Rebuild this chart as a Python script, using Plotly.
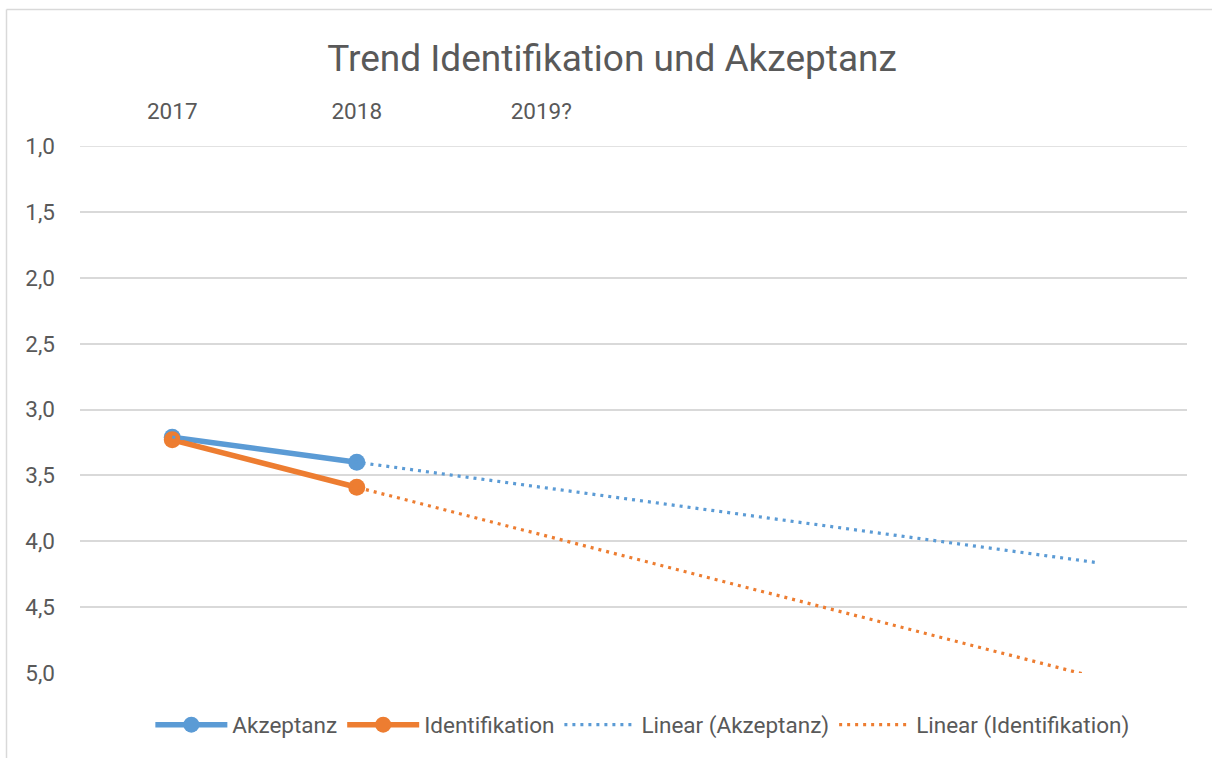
import numpy as np
import plotly.graph_objects as go

categories = ["2017", "2018", "2019?", "", "", ""]
akzeptanz = [3.21, 3.40]
identifikation = [3.23, 3.59]
forecast_periods = 4
y_ticks = [1.0, 1.5, 2.0, 2.5, 3.0, 3.5, 4.0, 4.5, 5.0]
y_ticklabels = ["1,0", "1,5", "2,0", "2,5", "3,0", "3,5", "4,0", "4,5", "5,0"]

x_data = list(range(len(akzeptanz)))
x_trend = np.arange(len(akzeptanz) + forecast_periods)

def trend(vals):
    slope, inter = np.polyfit(x_data, vals, 1)
    return slope * x_trend + inter

blue = "#5B9BD5"
orange = "#ED7D31"
grey = "#595959"
gridc = "#D9D9D9"
font_family = "Roboto, sans-serif"

W, H = 1212, 758
L, R, T, B = 80, 25, 146, 85
fs = 22.5

fig = go.Figure()
fig.add_trace(go.Scatter(x=x_data, y=akzeptanz, name="Akzeptanz", mode="lines+markers",
                         line=dict(color=blue, width=5.5), marker=dict(size=17, color=blue)))
fig.add_trace(go.Scatter(x=x_data, y=identifikation, name="Identifikation", mode="lines+markers",
                         line=dict(color=orange, width=5.5), marker=dict(size=17, color=orange)))
fig.add_trace(go.Scatter(x=x_trend, y=trend(akzeptanz), name="Linear (Akzeptanz)", mode="lines",
                         line=dict(color=blue, width=3.2, dash="3px,5px")))
fig.add_trace(go.Scatter(x=x_trend, y=trend(identifikation), name="Linear (Identifikation)", mode="lines",
                         line=dict(color=orange, width=3.2, dash="3px,5px")))

fig.update_layout(
    width=W, height=H,
    margin=dict(l=L, r=R, t=T, b=B),
    paper_bgcolor="white", plot_bgcolor="white",
    font=dict(family=font_family, color=grey, size=fs),
    title=dict(text="Trend Identifikation und Akzeptanz", x=0.505, xanchor="center",
               y=1 - 58 / H, yanchor="middle", font=dict(size=37, color=grey, family=font_family)),
    showlegend=True,
    legend=dict(orientation="h", x=0.508, xanchor="center", y=-(725 - (H - B)) / (H - T - B),
                yanchor="middle", font=dict(size=fs, color=grey), itemwidth=72),
    xaxis=dict(side="top", range=[-0.5, len(categories) - 0.5],
               tickvals=list(range(len(categories))), ticktext=categories,
               showgrid=False, zeroline=False, showline=False, ticks="",
               ticklabelstandoff=22, tickfont=dict(size=fs, color=grey)),
    yaxis=dict(range=[5.0, 1.0], tickvals=y_ticks, ticktext=y_ticklabels,
               showgrid=True, gridcolor=gridc, gridwidth=1.5, zeroline=False,
               showline=False, ticks="", ticklabelstandoff=24,
               tickfont=dict(size=fs, color=grey)),
)

# top gridline at 1,0 (hidden by plotly at the axis edge)
fig.add_shape(type="line", xref="paper", yref="y", x0=0, x1=1, y0=y_ticks[0], y1=y_ticks[0],
              line=dict(color=gridc, width=1.5), layer="below")

# chart area border (top and left edges visible)
bx = (6.5 - L) / (W - L - R)
by_top = (H - B - 9.5) / (H - T - B)
fig.add_shape(type="line", xref="paper", yref="paper", x0=bx, x1=(W - L) / (W - L - R),
              y0=by_top, y1=by_top, line=dict(color=gridc, width=1.5))
fig.add_shape(type="line", xref="paper", yref="paper", x0=bx, x1=bx,
              y0=by_top, y1=-B / (H - T - B), line=dict(color=gridc, width=1.5))

fig.write_html("out.html", config={"displayModeBar": False},
               post_script="document.body.style.margin='0';document.body.style.overflow='hidden';")
